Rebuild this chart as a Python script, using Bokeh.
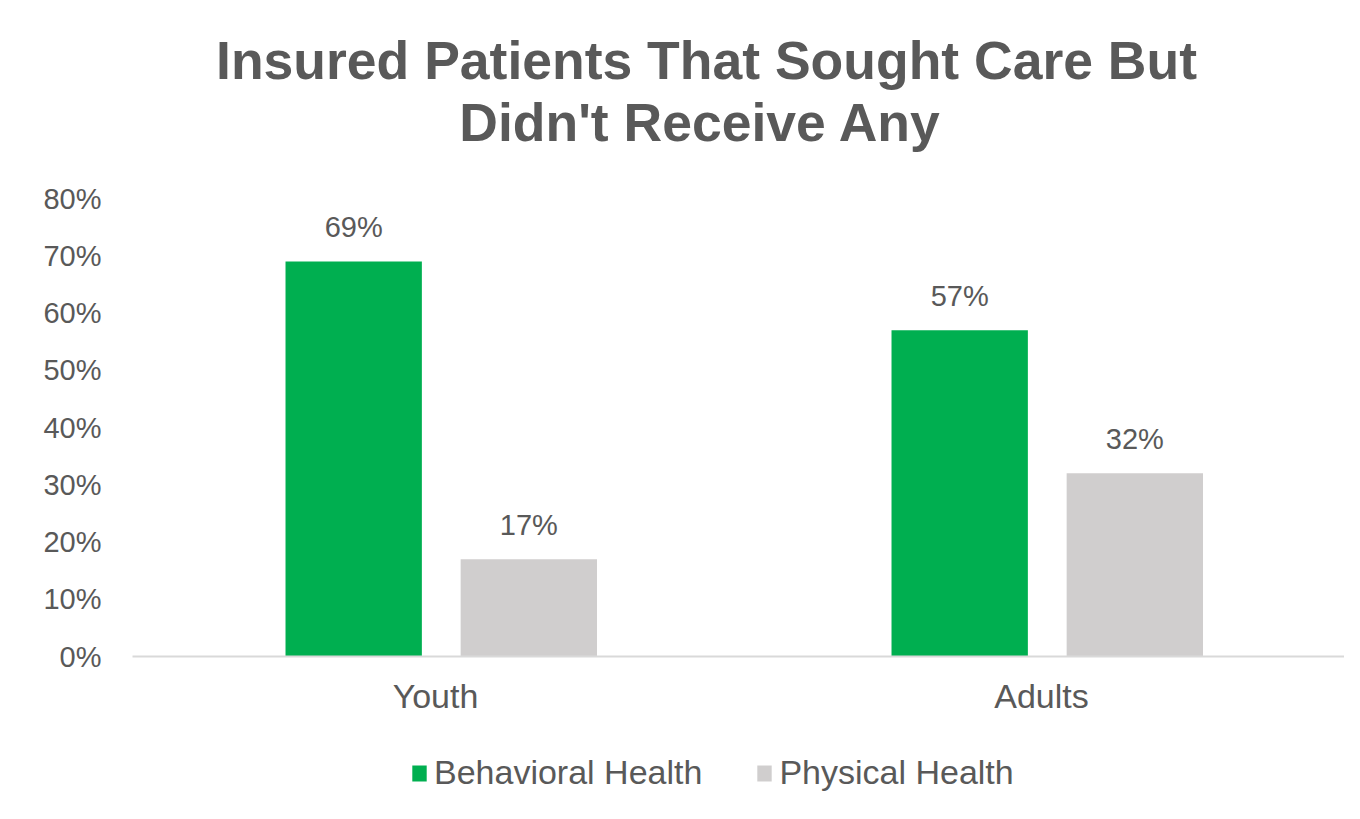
from bokeh.plotting import figure
from bokeh.layouts import column
from bokeh.models import (ColumnDataSource, FactorRange, Range1d, FixedTicker, PrintfTickFormatter,
                          Label, Legend)
from bokeh.transform import dodge
from bokeh.core.properties import value
from bokeh.embed import file_html
from bokeh.resources import INLINE

categories = ["Youth", "Adults"]
behavioral = [69, 57]
physical = [17, 32]
series_names = ["Behavioral Health", "Physical Health"]
y_ticks = [0, 10, 20, 30, 40, 50, 60, 70, 80]
title_lines = ["Insured Patients That Sought Care But", "Didn't Receive Any"]

GREEN = "#00AF50"
GREY = "#D0CECE"
TEXT = "#595959"
FONT = "Liberation Sans"


def bare(fig):
    fig.axis.visible = False
    fig.grid.visible = False
    return fig


src = ColumnDataSource(dict(
    cat=categories,
    beh=behavioral,
    phy=physical,
    beh_lbl=[f"{v}%" for v in behavioral],
    phy_lbl=[f"{v}%" for v in physical],
))

# ---- title strip ----
p0 = bare(figure(
    width=1344, height=178,
    x_range=Range1d(0, 1212), y_range=Range1d(0, 178),
    output_backend="svg", toolbar_location=None,
    min_border_left=0, min_border_right=0, min_border_top=0, min_border_bottom=0,
    background_fill_color="white", border_fill_color="white", outline_line_color=None,
))
p0.add_layout(Label(x=574, y=118, text=title_lines[0], text_align="center", text_baseline="middle",
                    text_font=FONT, text_font_style="bold", text_font_size="53.5px", text_color=TEXT))
p0.add_layout(Label(x=568, y=56, text=title_lines[1], text_align="center", text_baseline="middle",
                    text_font=FONT, text_font_style="bold", text_font_size="53.5px", text_color=TEXT))

# ---- main chart ----
p = figure(
    width=1344, height=542,
    x_range=FactorRange(*categories, range_padding=0),
    y_range=Range1d(0, 80),
    output_backend="svg", toolbar_location=None,
    min_border_left=132, min_border_right=0, min_border_top=20, min_border_bottom=64,
    background_fill_color="white", border_fill_color="white",
    outline_line_color=None,
)
p.title = None

p.vbar(x=dodge("cat", -0.135, range=p.x_range), top="beh", width=0.225, source=src,
       fill_color=GREEN, line_color=None)
p.vbar(x=dodge("cat", 0.154, range=p.x_range), top="phy", width=0.225, source=src,
       fill_color=GREY, line_color=None)

p.text(x=dodge("cat", -0.135, range=p.x_range), y="beh", text="beh_lbl", source=src,
       text_align="center", text_baseline="middle", y_offset=-34,
       text_font=value(FONT), text_font_size="29px", text_color=TEXT)
p.text(x=dodge("cat", 0.154, range=p.x_range), y="phy", text="phy_lbl", source=src,
       text_align="center", text_baseline="middle", y_offset=-34,
       text_font=value(FONT), text_font_size="29px", text_color=TEXT)

p.xgrid.grid_line_color = None
p.ygrid.grid_line_color = None

p.yaxis.ticker = FixedTicker(ticks=y_ticks)
p.yaxis.formatter = PrintfTickFormatter(format="%d%%")
p.yaxis.axis_line_color = None
p.yaxis.major_tick_line_color = None
p.yaxis.minor_tick_line_color = None
p.yaxis.major_label_standoff = 25
p.yaxis.major_label_text_font = FONT
p.yaxis.major_label_text_font_size = "29px"
p.yaxis.major_label_text_color = TEXT

p.xaxis.axis_line_color = "#D9D9D9"
p.xaxis.axis_line_width = 2
p.xaxis.major_tick_line_color = None
p.xaxis.minor_tick_line_color = None
p.xaxis.major_label_standoff = 14
p.xaxis.major_label_text_font = FONT
p.xaxis.major_label_text_font_size = "34px"
p.xaxis.major_label_text_color = TEXT

# ---- legend strip ----
p2 = bare(figure(
    width=1344, height=83,
    x_range=FactorRange(*categories, range_padding=0), y_range=Range1d(100, 200),
    output_backend="svg", toolbar_location=None,
    min_border_left=0, min_border_right=0, min_border_top=0, min_border_bottom=0,
    background_fill_color="white", border_fill_color="white", outline_line_color=None,
))
k1 = p2.vbar(x=dodge("cat", -0.135, range=p2.x_range), top="beh", width=0.225, source=src,
             fill_color=GREEN, line_color=None)
k2 = p2.vbar(x=dodge("cat", 0.154, range=p2.x_range), top="phy", width=0.225, source=src,
             fill_color=GREY, line_color=None)

leg = Legend(items=[(series_names[0], [k1]), (series_names[1], [k2])])
leg.orientation = "horizontal"
leg.location = (278, 11)
leg.border_line_color = None
leg.background_fill_alpha = 0
leg.label_text_font = FONT
leg.label_text_font_size = "34px"
leg.label_text_color = TEXT
leg.glyph_width = 18
leg.glyph_height = 20
leg.spacing = 53
leg.label_standoff = 6
leg.margin = 0
leg.padding = 0
p2.add_layout(leg, "center")

layout = column(p0, p, p2, spacing=0)
open("out.html", "w").write(file_html(layout, INLINE))
